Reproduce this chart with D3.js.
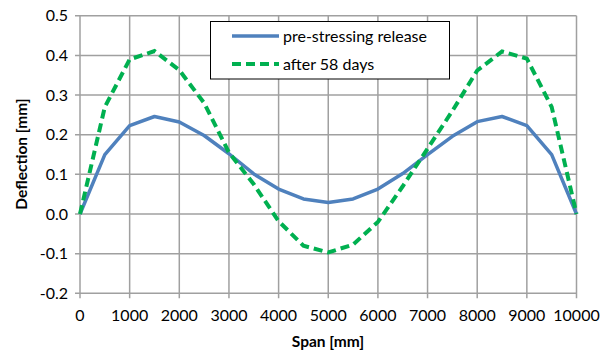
<!DOCTYPE html>
<html><head><meta charset="utf-8">
<script src="https://cdn.jsdelivr.net/npm/d3@7"></script>
<style>body{margin:0;background:#fff}svg{display:block}text{font-family:Lato,"Open Sans",sans-serif}</style>
</head><body>
<svg id="c" width="602" height="356"></svg>
<script>
const span = [0,500,1000,1500,2000,2500,3000,3500,4000,4500,5000,5500,6000,6500,7000,7500,8000,8500,9000,9500,10000];
const release = [0,0.15,0.223,0.246,0.232,0.198,0.152,0.101,0.063,0.038,0.029,0.038,0.063,0.102,0.15,0.196,0.233,0.246,0.223,0.15,0];
const after58 = [0,0.27,0.39,0.411,0.363,0.28,0.155,0.075,-0.018,-0.08,-0.097,-0.077,-0.02,0.07,0.165,0.26,0.362,0.41,0.392,0.27,0];
const xTicks = [0,1000,2000,3000,4000,5000,6000,7000,8000,9000,10000];
const yTicks = [-0.2,-0.1,0,0.1,0.2,0.3,0.4,0.5];
const seriesNames = ["pre-stressing release","after 58 days"];

const svg = d3.select("#c");
const x = d3.scaleLinear().domain([0,10000]).range([80,576.5]);
const y = d3.scaleLinear().domain([-0.2,0.5]).range([293.3,15.8]);
const grid = "#a0a0a0";

svg.append("g").selectAll("line").data(xTicks).join("line")
  .attr("x1",d=>x(d)).attr("x2",d=>x(d)).attr("y1",y(0.5)).attr("y2",y(-0.2)+5)
  .attr("stroke",grid).attr("stroke-width",1.5);
svg.append("g").selectAll("line").data(yTicks).join("line")
  .attr("y1",d=>y(d)).attr("y2",d=>y(d)).attr("x1",x(0)-5).attr("x2",x(10000))
  .attr("stroke",grid).attr("stroke-width",1.5);

svg.append("g").selectAll("text").data(yTicks).join("text")
  .attr("x",68).attr("y",d=>y(d)).attr("dy","0.35em").attr("text-anchor","end")
  .attr("font-size",16).attr("fill","#000").text(d=>d3.format(".1f")(d).replace("\u2212","-"));
svg.append("g").selectAll("text").data(xTicks).join("text")
  .attr("x",d=>x(d)).attr("y",321).attr("text-anchor","middle")
  .attr("font-size",16).attr("fill","#000").text(d=>d);

svg.append("text").attr("x",328).attr("y",347).attr("text-anchor","middle")
  .attr("font-size",15.5).attr("font-weight","bold").text("Span [mm]");
svg.append("text").attr("transform","translate(27,154) rotate(-90)").attr("text-anchor","middle")
  .attr("font-size",15.5).attr("font-weight","bold").text("Deflection [mm]");

const line = d3.line().x((d,i)=>x(span[i])).y(d=>y(d));
svg.append("path").datum(release).attr("d",line).attr("fill","none")
  .attr("stroke","#4f81bd").attr("stroke-width",3.5).attr("stroke-linejoin","round");
svg.append("path").datum(after58).attr("d",line).attr("fill","none")
  .attr("stroke","#00b050").attr("stroke-width",4).attr("stroke-dasharray","9,5");

const lg = svg.append("g");
lg.append("rect").attr("x",210.5).attr("y",21.5).attr("width",239).attr("height",57.5)
  .attr("fill","#fff").attr("stroke","#000").attr("stroke-width",1);
const colors = ["#4f81bd","#00b050"], dashes = [null,"9,5"];
seriesNames.forEach((n,i)=>{
  const yy = 36 + i*28;
  lg.append("line").attr("x1",232).attr("x2",279).attr("y1",yy).attr("y2",yy)
    .attr("stroke",colors[i]).attr("stroke-width",i?4:3.5).attr("stroke-dasharray",dashes[i]);
  lg.append("text").attr("x",283).attr("y",yy).attr("dy","0.35em").attr("font-size",16).text(n);
});
</script>
</body></html>
